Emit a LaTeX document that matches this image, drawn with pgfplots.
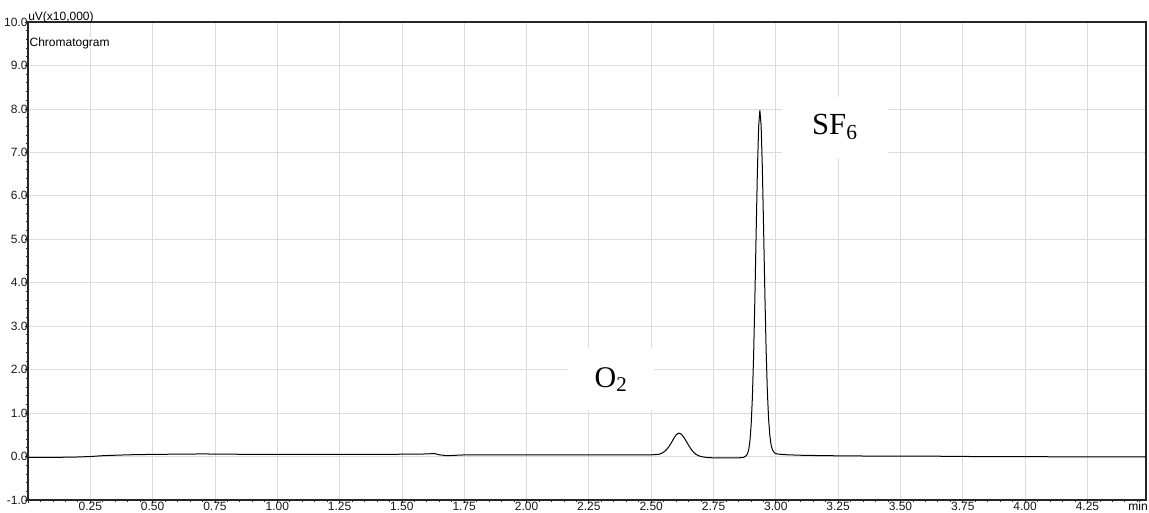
\documentclass[border=0pt]{standalone}
\usepackage{fontspec}
\setmainfont{Liberation Sans}
\newfontfamily\serif{Liberation Serif}
\usepackage{pgfplots}
\pgfplotsset{compat=1.18}
\begin{document}
\begin{tikzpicture}
\begin{axis}[name=ax, at={(0,0)}, anchor=south west,
  width=838.5pt, height=358.5pt, scale only axis,
  xmin=0, xmax=4.485, ymin=-1, ymax=10,
  axis line style={black!85, line width=0.9pt},
  tick pos=left, tick align=outside,
  major tick length=2.5pt, minor tick length=1.6pt,
  tick style={black!85, line width=0.6pt},
  xtick={0,0.25,0.5,0.75,1,1.25,1.5,1.75,2,2.25,2.5,2.75,3,3.25,3.5,3.75,4,4.25},
  xticklabels={,0.25,0.50,0.75,1.00,1.25,1.50,1.75,2.00,2.25,2.50,2.75,3.00,3.25,3.50,3.75,4.00,4.25},
  minor xtick={0.05,0.1,...,4.46},
  ytick={-1,0,1,2,3,4,5,6,7,8,9,10},
  yticklabels={-1.0,0.0,1.0,2.0,3.0,4.0,5.0,6.0,7.0,8.0,9.0,10.0},
  minor y tick num=4,
  grid=major, major grid style={gray!28, line width=0.6pt},
  ticklabel style={font=\fontsize{9}{10}\selectfont, text=black!90},
  xticklabel style={inner sep=0pt, yshift=0.8pt},
  yticklabel style={inner sep=0pt, xshift=2.4pt},
  clip=false,
]
\addplot[black, line width=0.75pt] coordinates {
(0,-0.02) (0.1,-0.02) (0.2,-0.01) (0.25,0.00) (0.3,0.02) (0.4,0.04) (0.5,0.05)
(0.6,0.055) (0.7,0.06) (0.8,0.055) (0.9,0.05) (1.0,0.05) (1.2,0.05) (1.4,0.05)
(1.55,0.055) (1.6,0.06) (1.63,0.07) (1.65,0.04) (1.68,0.02) (1.72,0.03) (1.76,0.04)
(1.8,0.04) (2.0,0.04) (2.2,0.04) (2.4,0.04) (2.5,0.04) (2.53,0.05)
(2.54,0.07) (2.55,0.10) (2.56,0.15) (2.57,0.22) (2.58,0.31) (2.59,0.41) (2.60,0.50)
(2.61,0.54) (2.62,0.52) (2.63,0.45) (2.64,0.36) (2.65,0.26) (2.66,0.17) (2.67,0.10)
(2.68,0.05) (2.69,0.02) (2.70,0.00) (2.72,-0.02) (2.75,-0.03) (2.80,-0.03) (2.85,-0.03)
(2.870,-0.02) (2.876,0.00) (2.881,0.02) (2.886,0.06) (2.891,0.15) (2.896,0.35)
(2.901,0.73) (2.906,1.37) (2.911,2.35) (2.916,3.65) (2.921,5.14) (2.926,6.56)
(2.931,7.59) (2.936,7.97) (2.941,7.62) (2.946,6.62) (2.951,5.22) (2.956,3.75)
(2.961,2.47) (2.966,1.50) (2.971,0.86) (2.976,0.48) (2.981,0.27) (2.986,0.16)
(2.991,0.11) (2.996,0.08) (3.005,0.06) (3.02,0.05) (3.05,0.04) (3.1,0.03) (3.2,0.02)
(3.4,0.01) (3.6,0.01) (3.8,0.00) (4.0,0.00) (4.2,-0.01) (4.485,-0.01)
};
\node[fill=white, inner sep=0pt, minimum width=64.5pt, minimum height=46.5pt] at (axis cs:2.339,1.775) {};
\node[inner sep=0pt, font=\serif\fontsize{22.5}{24}\selectfont] at (axis cs:2.339,1.77) {O\textsubscript{2}};
\node[fill=white, inner sep=0pt, minimum width=79.5pt, minimum height=45.75pt] at (axis cs:3.237,7.57) {};
\node[inner sep=0pt, font=\serif\fontsize{23}{24}\selectfont] at (axis cs:3.237,7.58) {SF\textsubscript{6}};
\node[anchor=base west, inner sep=0pt, font=\fontsize{9}{10}\selectfont] at ([yshift=1.5pt]rel axis cs:0,1) {uV(x10,000)};
\node[anchor=base west, inner sep=0pt, fill=white, font=\fontsize{9}{10}\selectfont] at ([yshift=-18pt, xshift=1pt]rel axis cs:0,1) {Chromatogram};
\node[anchor=base east, inner sep=0pt, font=\fontsize{9}{10}\selectfont] at ([yshift=-8.1pt, xshift=1.5pt]rel axis cs:1,0) {min};
\end{axis}
\pgfresetboundingbox
\path[use as bounding box] (-21pt,-9pt) rectangle (840.75pt,375pt);
\end{tikzpicture}
\end{document}
